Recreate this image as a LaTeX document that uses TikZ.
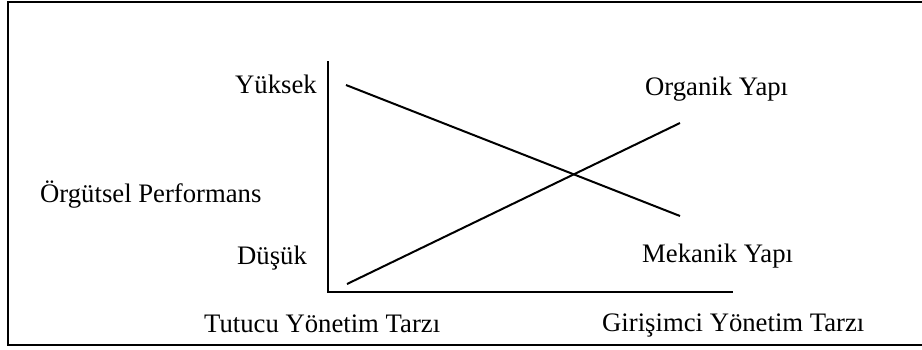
\documentclass[tikz,border=0pt]{standalone}
\usepackage{fontspec}
\setmainfont{Liberation Serif}
\begin{document}
\begin{tikzpicture}[x=1pt,y=-1pt,
  lbl/.style={inner sep=0pt,anchor=base west,font=\fontsize{26.7}{30}\selectfont},
  ln/.style={line width=2pt,line cap=butt}]
\useasboundingbox (0,0) rectangle (922,349);
\clip (0,0) rectangle (922,349);
% frame
\draw[line width=2.4pt] (8,2) rectangle (940,345);
% axes
\coordinate (top) at (328,61);
\coordinate (origin) at (328,292);
\coordinate (xend) at (733,292);
\draw[ln] (top) -- (origin) -- (xend);
% lines
\coordinate (a1) at (346,85);
\coordinate (a2) at (680,216);
\coordinate (b1) at (347,284);
\coordinate (b2) at (680,123);
\draw[ln] (a1) -- (a2);
\draw[ln] (b1) -- (b2);
% labels
\node[lbl] (yuksek) at (235,93) {Yüksek};
\node[lbl] (organik) at (645,95) {Organik Yapı};
\node[lbl] (perf) at (40,202) {Örgütsel Performans};
\node[lbl] (dusuk) at (237,264) {Düşük};
\node[lbl] (mekanik) at (642,262) {Mekanik Yapı};
\node[lbl] (tutucu) at (204,332) {Tutucu Yönetim Tarzı};
\node[lbl] (girisimci) at (602,331) {Girişimci Yönetim Tarzı};
\end{tikzpicture}
\end{document}
